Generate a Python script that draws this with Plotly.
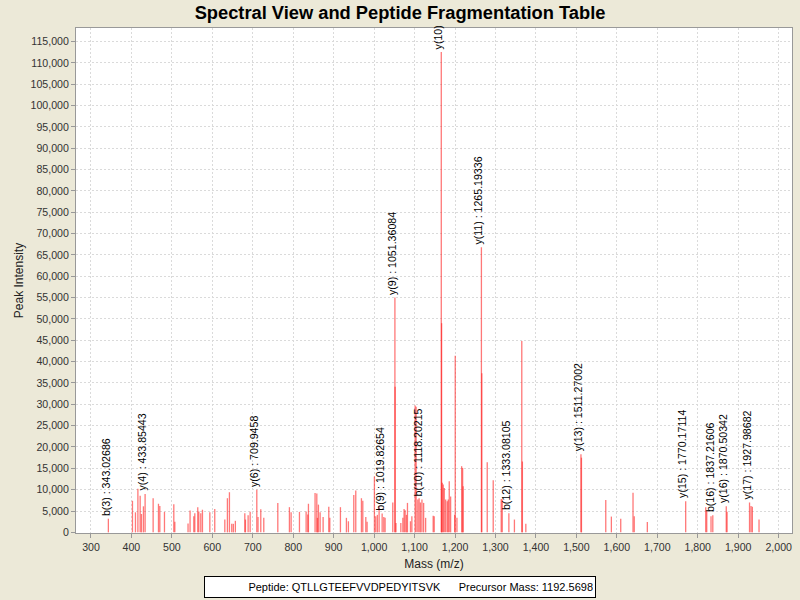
import plotly.graph_objects as go

# ---- data ----
peak_mz = [
    343.03, 402.6, 410.0, 416.0, 421.6, 424.8, 429.7, 433.85, 453.7, 466.9,
    470.2, 481.7, 504.8, 507.3, 540.0, 545.0, 554.2, 556.7, 564.0, 566.6,
    571.5, 575.6, 593.8, 606.0, 630.9, 637.3, 642.3, 648.0, 652.0, 657.0,
    680.3, 681.9, 688.5, 693.5, 709.95, 713.0, 719.8, 727.2, 761.9, 790.6,
    794.8, 815.4, 831.9, 836.0, 837.6, 854.0, 858.3, 859.8, 862.3, 866.5,
    873.9, 887.9, 890.4, 916.7, 931.5, 936.4, 949.7, 954.6, 968.6, 972.0,
    979.4, 982.6, 1000.7, 1004.0, 1008.0, 1012.3, 1019.83, 1023.9, 1027.1, 1046.1,
    1051.36, 1051.9, 1054.0, 1066.0, 1071.0, 1074.0, 1076.6, 1079.9, 1082.4, 1089.8,
    1093.3, 1101.4, 1103.8, 1108.0, 1111.2, 1114.5, 1118.2, 1122.4, 1127.3, 1146.0,
    1148.5, 1166.0, 1166.8, 1168.4, 1170.9, 1173.4, 1176.8, 1180.7, 1183.2, 1185.7,
    1189.1, 1199.0, 1200.5, 1204.7, 1216.3, 1218.8, 1220.0, 1265.19, 1266.2, 1279.6,
    1294.4, 1314.2, 1316.7, 1333.08, 1346.8, 1365.0, 1366.5, 1375.0, 1511.27, 1512.5,
    1572.6, 1586.5, 1609.6, 1640.0, 1643.0, 1675.4, 1770.17, 1819.7, 1822.2, 1832.8,
    1837.22, 1870.5, 1872.5, 1928.0, 1931.7, 1935.0, 1951.5,
]
peak_int = [
    3200, 7400, 4700, 10200, 8600, 4300, 6100, 9000, 8000, 6700,
    6200, 4800, 6600, 2500, 2100, 5100, 3750, 4500, 5900, 4900,
    4500, 5300, 4700, 5500, 3000, 8000, 9400, 2000, 2000, 2700,
    4500, 3000, 4000, 4800, 10000, 3600, 5400, 3400, 6900, 5900,
    4700, 4800, 4900, 4200, 6700, 9200, 9100, 3400, 6500, 4700,
    3600, 6000, 3400, 5900, 3400, 2600, 8750, 9800, 8000, 7400,
    3600, 2500, 13100, 3750, 4100, 6100, 4400, 3600, 3400, 7000,
    55000, 34100, 2200, 2200, 3400, 5500, 5200, 4100, 6900, 2600,
    3750, 29700, 29400, 7700, 8000, 7000, 7700, 6900, 3400, 3900,
    3750, 112500, 49000, 11600, 11200, 10400, 7700, 7300, 7700, 12000,
    8400, 4100, 41400, 3400, 15500, 15100, 10800, 66800, 37300, 16400,
    12200, 7800, 7700, 4500, 3000, 44800, 16600, 2000, 18300, 17500,
    7600, 3700, 3200, 9300, 3800, 2400, 7300, 5900, 5000, 3800,
    4000, 6100, 4800, 7000, 6200, 6000, 3000,
]

label_text = [
    "b(3) : 343.02686", "y(4) : 433.85443", "y(6) : 709.9458", "b(9) : 1019.82654",
    "y(9) : 1051.36084", "b(10) : 1118.20215", "y(10)", "y(11) : 1265.19336",
    "b(12) : 1333.08105", "y(13) : 1511.27002", "y(15) : 1770.17114",
    "b(16) : 1837.21606", "y(16) : 1870.50342", "y(17) : 1927.98682",
]
label_mz = [343.03, 433.85, 709.95, 1019.83, 1051.36, 1118.2, 1166.0, 1265.19,
            1333.08, 1511.27, 1770.17, 1837.22, 1870.5, 1928.0]

x_ticks = list(range(300, 2001, 100))
y_ticks = list(range(0, 115001, 5000))

peptide = "QTLLGTEEFVVDPEDYITSVK"
precursor = "1192.5698"

# ---- build ----
xs, ys = [], []
for m, i in zip(peak_mz, peak_int):
    xs += [m, m, None]
    ys += [0, i, None]

fig = go.Figure()
fig.add_trace(go.Scatter(
    x=xs, y=ys, mode="lines",
    line=dict(color="rgba(255,30,30,0.6)", width=1.3),
    hoverinfo="skip", showlegend=False,
))

font_family = "Liberation Sans, Arial, sans-serif"

annotations = []
lookup = dict(zip(peak_mz, peak_int))
for t, m in zip(label_text, label_mz):
    annotations.append(dict(
        x=m, y=lookup[m], xref="x", yref="y", text=t, textangle=-90,
        showarrow=False, xanchor="center", yanchor="bottom",
        xshift=-3, yshift=1,
        font=dict(family=font_family, size=10.6, color="black"),
    ))

annotations.append(dict(
    x=(400 - 76) / 716, y=(533 - 587) / 505, xref="paper", yref="paper",
    text=f"Peptide: {peptide}" + "\u00a0" * 6 + f"Precursor Mass: {precursor}",
    showarrow=False, xanchor="center", yanchor="middle",
    width=386, height=16, align="right", borderpad=2,
    bordercolor="black", borderwidth=1, bgcolor="white",
    font=dict(family=font_family, size=11, color="black"),
))

fig.update_layout(
    width=800, height=600,
    paper_bgcolor="#ECE9D8", plot_bgcolor="white",
    margin=dict(l=76, r=8, t=28, b=67, autoexpand=False),
    title=dict(text="<b>Spectral View and Peptide Fragmentation Table</b>",
               x=0.5, xanchor="center", y=1 - 13 / 600, yanchor="middle",
               font=dict(family=font_family, size=18.3, color="black")),
    font=dict(family=font_family, size=10.6, color="#333333"),
    annotations=annotations,
    separators=".,",
    xaxis=dict(
        range=[263, 2033], tickvals=x_ticks, tickformat=",d",
        ticks="outside", ticklen=4, tickcolor="#999999",
        showline=True, linecolor="#999999", mirror=True,
        showgrid=True, gridcolor="#dadada", griddash="2px,2px", gridwidth=1,
        zeroline=False, automargin=False,
        title=dict(text="Mass (m/z)", standoff=7,
                   font=dict(family=font_family, size=12, color="#222222")),
        tickfont=dict(color="#333333"),
    ),
    yaxis=dict(
        range=[-150, 118150], tickvals=y_ticks, tickformat=",d",
        ticks="outside", ticklen=4, tickcolor="#999999",
        showline=True, linecolor="#999999", mirror=True,
        showgrid=True, gridcolor="#dadada", griddash="2px,2px", gridwidth=1,
        zeroline=False, automargin=False,
        title=dict(text="Peak Intensity", standoff=4,
                   font=dict(family=font_family, size=12, color="#222222")),
        tickfont=dict(color="#333333"),
    ),
)

fig.write_html(
    "out.html",
    config={"displayModeBar": False},
    post_script="document.body.style.margin='0';"
                "document.body.style.background='#ECE9D8';"
                "document.body.style.overflow='hidden';",
)
